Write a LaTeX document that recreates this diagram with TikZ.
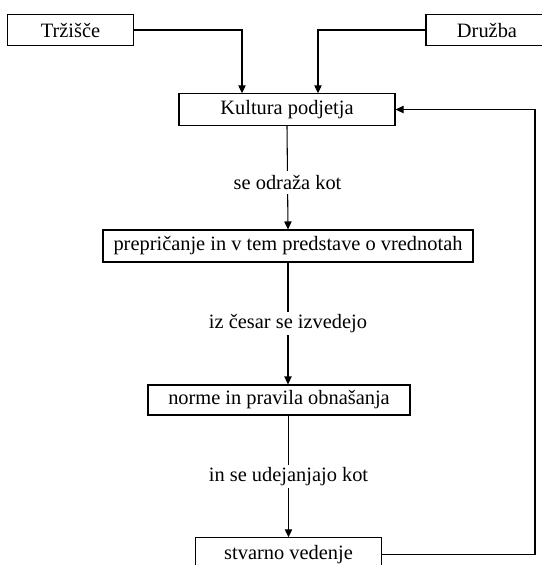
\documentclass[tikz,border=0pt]{standalone}
\usepackage{fontspec}
\setmainfont{Liberation Serif}
\usepackage{tikz}
\usetikzlibrary{arrows.meta}

\begin{document}
\begin{tikzpicture}[x=0.75pt, y=-0.75pt,
    font=\fontsize{15.3}{18}\selectfont,
    box/.style={draw, line width=0.8pt, rectangle, inner sep=0pt, minimum height=23.5pt},
    lbl/.style={fill=white, inner sep=2pt, minimum height=17pt},
    arr/.style={-{Triangle[length=6pt, width=5.5pt]}, line width=0.8pt},
    ln/.style={line width=0.8pt}]

\useasboundingbox (0,0) rectangle (542,565);
\clip (0,0) rectangle (542,565);

% outer nodes

\node[box, minimum width=94pt] (trzisce) at (70.5, 30) {Tržišče};
\node[box, minimum width=91.5pt] (druzba) at (487, 30) {Družba};

% main chain

\node[box, minimum width=162pt] (kultura) at (287, 109.5) {Kultura podjetja};
\node[box, minimum width=277.5pt, minimum height=24pt] (prepricanje) at (288, 246) {prepričanje in v tem predstave o vrednotah};
\node[box, minimum width=196.5pt, minimum height=22.5pt] (norme) at (279, 400) {norme in pravila obnašanja};
\node[box, minimum width=140pt, minimum height=25pt] (vedenje) at (288.5, 554.5) {stvarno vedenje};

% feedback corner

\coordinate (nazaj) at (535, 109.5);

% into the culture
\draw [arr] (trzisce.east) -| ([xshift=-33.75pt]kultura.north);
\draw [arr] (druzba.west) -| ([xshift=23.25pt]kultura.north);

% down the chain
\draw [arr] (kultura.south) -- node[lbl, pos=0.55] (odraza) {se odraža kot} (prepricanje.north);
\draw [arr] (prepricanje.south) -- node[lbl] (izvedejo) {iz česar se izvedejo} (prepricanje.south |- norme.north);
\draw [arr] (norme.south -| vedenje.north) -- node[lbl] (udejanjajo) {in se udejanjajo kot} (vedenje.north);

% back to the culture
\draw [arr] (vedenje.east) -| (nazaj) -- (kultura.east);

\end{tikzpicture}
\end{document}
